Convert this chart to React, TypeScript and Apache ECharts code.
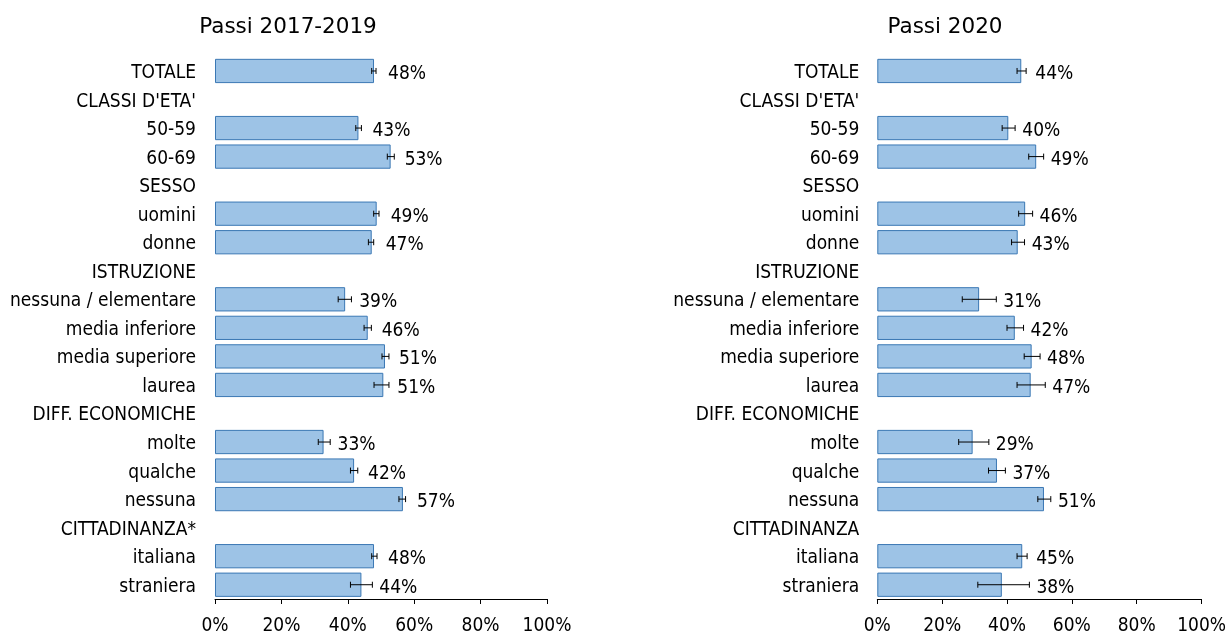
import React, { useEffect, useRef } from "react";
import * as echarts from "echarts";

const catsA = ["TOTALE", "CLASSI D'ETA'", "50-59", "60-69", "SESSO", "uomini", "donne", "ISTRUZIONE", "nessuna / elementare", "media inferiore", "media superiore", "laurea", "DIFF. ECONOMICHE", "molte", "qualche", "nessuna", "CITTADINANZA*", "italiana", "straniera"];
const catsB = ["TOTALE", "CLASSI D'ETA'", "50-59", "60-69", "SESSO", "uomini", "donne", "ISTRUZIONE", "nessuna / elementare", "media inferiore", "media superiore", "laurea", "DIFF. ECONOMICHE", "molte", "qualche", "nessuna", "CITTADINANZA", "italiana", "straniera"];

const valA = [47.9, null, 43.2, 52.9, null, 48.7, 47.2, null, 39.2, 46.0, 51.2, 50.7, null, 32.7, 41.9, 56.6, null, 47.9, 44.1];
const lowA = [47.2, null, 42.4, 51.9, null, 47.8, 46.2, null, 37.1, 44.9, 50.3, 47.9, null, 31.1, 40.8, 55.4, null, 47.2, 40.8];
const highA = [48.5, null, 44.1, 54.0, null, 49.4, 47.8, null, 41.1, 47.1, 52.4, 52.4, null, 34.7, 43.0, 57.4, null, 48.8, 47.4];

const valB = [44.4, null, 40.4, 49.0, null, 45.6, 43.3, null, 31.4, 42.4, 47.6, 47.3, null, 29.4, 36.9, 51.4, null, 44.7, 38.4];
const lowB = [43.1, null, 38.5, 46.7, null, 43.6, 41.4, null, 26.2, 40.0, 45.3, 43.1, null, 25.1, 34.3, 49.5, null, 43.1, 31.0];
const highB = [45.9, null, 42.5, 51.3, null, 47.9, 45.4, null, 36.7, 45.1, 50.2, 51.8, null, 34.4, 39.5, 53.5, null, 46.2, 46.9];

const titles = ["Passi 2017-2019", "Passi 2020"];

const FONT = "'DejaVu Sans Condensed', 'DejaVu Sans', sans-serif";
const FS = 19;

function errData(val: (number | null)[], low: (number | null)[], high: (number | null)[]) {
  const out: any[] = [];
  val.forEach((v, i) => {
    if (v != null) out.push([low[i], high[i], i, v]);
  });
  return out;
}

function renderErr(params: any, api: any) {
  const lo = api.value(0);
  const hi = api.value(1);
  const idx = api.value(2);
  const v = api.value(3);
  const p1 = api.coord([lo, idx]);
  const p2 = api.coord([hi, idx]);
  const pv = api.coord([v, idx]);
  const y = p1[1];
  const cap = 3;
  const st = { stroke: "#000", lineWidth: 1 };
  const lx = Math.max(pv[0] + 14, p2[0] + 7);
  return {
    type: "group",
    children: [
      { type: "line", shape: { x1: p1[0], y1: y, x2: p2[0], y2: y }, style: st },
      { type: "line", shape: { x1: p1[0], y1: y - cap, x2: p1[0], y2: y + cap }, style: st },
      { type: "line", shape: { x1: p2[0], y1: y - cap, x2: p2[0], y2: y + cap }, style: st },
      {
        type: "text",
        style: {
          text: Math.round(v) + "%",
          x: lx,
          y: y + 1,
          align: "left",
          verticalAlign: "middle",
          fontFamily: FONT,
          fontSize: FS,
          fill: "#000",
        },
      },
    ],
  };
}

export default function App() {
  const ref = useRef<HTMLDivElement>(null);
  useEffect(() => {
    if (!ref.current) return;
    const chart = echarts.init(ref.current, null, { renderer: "svg" });
    const grids = [
      { left: 215, top: 56.7, width: 332, height: 543 },
      { left: 877.3, top: 56.7, width: 324.4, height: 543 },
    ];
    const xAxis = [0, 1].map((g) => ({
      type: "value",
      gridIndex: g,
      min: 0,
      max: 100,
      interval: 20,
      axisLine: { show: true, lineStyle: { color: "#000", width: 1 } },
      axisTick: { show: true, length: 5, lineStyle: { color: "#000" } },
      splitLine: { show: false },
      axisLabel: { formatter: "{value}%", fontFamily: FONT, fontSize: FS, color: "#000", margin: 15 },
    }));
    const yAxis = [catsA, catsB].map((cats, g) => ({
      type: "category",
      gridIndex: g,
      data: cats,
      inverse: true,
      axisLine: { show: false },
      axisTick: { show: false },
      axisLabel: { fontFamily: FONT, fontSize: FS, color: "#000", margin: g === 0 ? 19 : 18, interval: 0 },
    }));
    const barStyle = { color: "#9DC3E6", borderColor: "#3B78B4", borderWidth: 1 };
    chart.setOption({
      animation: false,
      grid: grids,
      xAxis,
      yAxis,
      graphic: [
        { type: "text", x: 288, y: 25, style: { text: titles[0], align: "center", verticalAlign: "middle", fontFamily: "'DejaVu Sans', sans-serif", fontSize: 21.5, fill: "#000" } },
        { type: "text", x: 945, y: 25, style: { text: titles[1], align: "center", verticalAlign: "middle", fontFamily: "'DejaVu Sans', sans-serif", fontSize: 21.5, fill: "#000" } },
      ],
      series: [
        { type: "bar", xAxisIndex: 0, yAxisIndex: 0, data: valA, barCategoryGap: "15%", itemStyle: barStyle },
        { type: "bar", xAxisIndex: 1, yAxisIndex: 1, data: valB, barCategoryGap: "15%", itemStyle: barStyle },
        { type: "custom", xAxisIndex: 0, yAxisIndex: 0, data: errData(valA, lowA, highA), encode: { x: [0, 1, 3], y: 2 }, renderItem: renderErr, z: 5 },
        { type: "custom", xAxisIndex: 1, yAxisIndex: 1, data: errData(valB, lowB, highB), encode: { x: [0, 1, 3], y: 2 }, renderItem: renderErr, z: 5 },
      ],
    });
    return () => chart.dispose();
  }, []);
  return <div ref={ref} style={{ position: "fixed", left: 0, top: 0, width: 1229, height: 633 }} />;
}
